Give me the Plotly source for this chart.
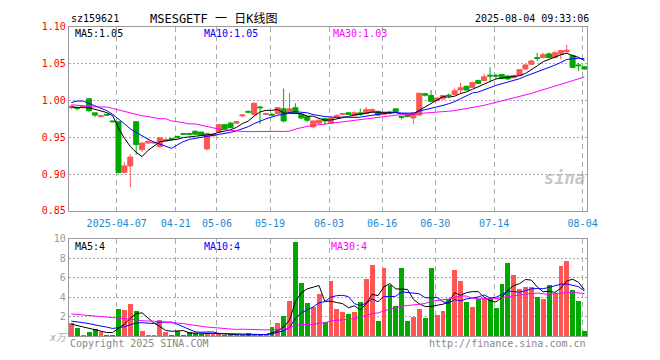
import numpy as np
import plotly.graph_objects as go

# ---------------- data ----------------
opens = [0.990, 0.990, 0.991, 1.002, 0.983, 0.978, 0.981, 0.972, 0.971, 0.902,
         0.911, 0.971, 0.933, 0.942, 0.942, 0.937, 0.945, 0.948, 0.951, 0.955,
         0.955, 0.958, 0.957, 0.934, 0.952, 0.957, 0.967, 0.969, 0.969, 0.979,
         0.985, 0.981, 0.991, 0.981, 0.981, 0.982, 0.9885, 0.983, 0.990, 0.981,
         0.978, 0.964, 0.969, 0.975, 0.969, 0.978, 0.981, 0.983, 0.979, 0.983,
         0.982, 0.984, 0.985, 0.981, 0.984, 0.9885, 0.978, 0.980, 0.976, 0.980,
         1.009, 1.0066, 0.9995, 1.002, 1.007, 1.008, 1.014, 1.019, 1.0175, 1.027,
         1.027, 1.034, 1.034, 1.035, 1.033, 1.0306, 1.0337, 1.0425, 1.049, 1.058,
         1.058, 1.063, 1.058, 1.063, 1.066, 1.061, 1.048, 1.0455]
highs = [0.993, 0.991, 0.993, 1.003, 0.983, 0.980, 0.982, 0.972, 0.971, 0.916,
         0.927, 0.971, 0.943, 0.949, 0.944, 0.950, 0.948, 0.949, 0.952, 0.955,
         0.955, 0.959, 0.957, 0.956, 0.955, 0.968, 0.968, 0.971, 0.972, 0.981,
         0.986, 0.997, 0.992, 0.983, 0.983, 0.991, 1.016, 1.010, 0.996, 0.982,
         0.979, 0.973, 0.974, 0.976, 0.977, 0.981, 0.983, 0.984, 0.985, 0.989,
         0.991, 0.989, 0.986, 0.984, 0.985, 0.989, 0.979, 0.981, 0.984, 1.010,
         1.010, 1.014, 1.004, 1.007, 1.009, 1.016, 1.024, 1.020, 1.025, 1.028,
         1.036, 1.045, 1.036, 1.036, 1.034, 1.035, 1.042, 1.049, 1.055, 1.0645,
         1.0645, 1.065, 1.0675, 1.068, 1.0754, 1.062, 1.051, 1.046]
lows = [0.988, 0.986, 0.990, 0.984, 0.977, 0.977, 0.979, 0.970, 0.901, 0.901,
        0.882, 0.926, 0.930, 0.941, 0.941, 0.936, 0.944, 0.945, 0.948, 0.953,
        0.953, 0.953, 0.952, 0.932, 0.951, 0.956, 0.960, 0.962, 0.968, 0.977,
        0.983, 0.980, 0.968, 0.980, 0.979, 0.981, 0.970, 0.982, 0.982, 0.975,
        0.970, 0.962, 0.967, 0.967, 0.968, 0.977, 0.980, 0.980, 0.978, 0.979,
        0.981, 0.983, 0.979, 0.980, 0.981, 0.984, 0.974, 0.977, 0.968, 0.979,
        1.005, 0.998, 0.999, 1.001, 1.003, 1.007, 1.0096, 1.013, 1.017, 1.022,
        1.026, 1.025, 1.029, 1.029, 1.028, 1.030, 1.033, 1.042, 1.048, 1.0534,
        1.057, 1.057, 1.057, 1.0556, 1.065, 1.0434, 1.040, 1.0416]
closes = [0.992, 0.989, 0.992, 0.986, 0.980, 0.979, 0.980, 0.971, 0.902, 0.911,
          0.923, 0.940, 0.942, 0.944, 0.943, 0.949, 0.947, 0.947, 0.950, 0.954,
          0.954, 0.954, 0.953, 0.955, 0.954, 0.967, 0.961, 0.963, 0.971, 0.980,
          0.984, 0.996, 0.990, 0.982, 0.980, 0.990, 0.972, 0.9885, 0.983, 0.976,
          0.973, 0.972, 0.973, 0.972, 0.976, 0.979, 0.982, 0.981, 0.983, 0.981,
          0.9876, 0.9876, 0.980, 0.983, 0.983, 0.9845, 0.977, 0.978, 0.983, 1.0096,
          1.007, 0.9987, 1.003, 1.0066, 1.0066, 1.013, 1.017, 1.014, 1.024, 1.023,
          1.032, 1.033, 1.033, 1.030, 1.029, 1.0337, 1.0416, 1.048, 1.0534, 1.057,
          1.062, 1.058, 1.0645, 1.0675, 1.068, 1.0447, 1.047, 1.0425]
volumes = [1.33, 0.87, 0.17, 0.47, 0.73, 0.40, 0.17, 0.15, 2.83, 2.73,
           3.36, 2.56, 0.57, 0.15, 0.15, 1.66, 0.47, 0.15, 0.50, 0.15,
           0.45, 0.30, 0.25, 0.30, 0.25, 0.20, 0.15, 0.15, 0.10, 0.15,
           0.30, 0.15, 0.15, 0.15, 0.97, 1.40, 2.06, 3.66, 9.73, 5.45,
           3.46, 3.06, 4.38, 1.50, 5.65, 2.76, 2.50, 2.26, 2.50, 3.56,
           5.88, 7.34, 1.56, 7.04, 5.28, 3.16, 7.04, 1.56, 2.00, 2.86,
           1.86, 7.04, 2.16, 2.56, 3.82, 6.84, 5.65, 3.56, 3.06, 3.82,
           3.95, 3.90, 2.90, 5.35, 7.54, 6.35, 4.88, 5.05, 5.05, 4.05,
           3.82, 5.25, 4.35, 7.24, 7.74, 4.75, 3.66, 0.50]

# moving-average values shown before a full window of days is on the chart
ma5_lead = [0.991, 0.990, 0.990, 0.990]
ma10_lead = [0.997, 0.999, 0.999, 0.996, 0.992, 0.989, 0.986, 0.981, 0.975]
ma30_lead = [0.994, 0.993, 0.993, 0.992, 0.991, 0.991, 0.991, 0.989, 0.987, 0.984,
             0.983, 0.981, 0.979, 0.978, 0.976, 0.975, 0.975, 0.972, 0.971, 0.969,
             0.968, 0.968, 0.966, 0.964, 0.963, 0.961, 0.960, 0.959, 0.959]
vma5_lead = [1.25, 1.10, 0.95, 0.85]
vma10_lead = [1.55, 1.50, 1.40, 1.30, 1.15, 1.05, 0.95, 0.80, 0.90]
vma30_lead = [2.30, 2.25, 2.20, 2.10, 2.05, 2.00, 2.00, 1.95, 1.90, 1.85,
              1.80, 1.70, 1.60, 1.60, 1.55, 1.50, 1.45, 1.45, 1.40, 1.30,
              1.20, 1.10, 1.00, 0.95, 0.90, 0.85, 0.80, 0.75, 0.70]

tick_idx = [8, 18, 25, 34, 44, 53, 62, 72, 87]
tick_labels = ["2025-04-07", "04-21", "05-06", "05-19", "06-03", "06-16",
               "06-30", "07-14", "08-04"]
price_ticks = [0.85, 0.90, 0.95, 1.00, 1.05, 1.10]
vol_ticks = [2, 4, 6, 8, 10]

# ---------------- helpers ----------------
def moving(arr, n, lead):
    arr = np.asarray(arr, dtype=float)
    out = list(lead)
    for i in range(len(lead), len(arr)):
        out.append(float(arr[i - n + 1:i + 1].mean()))
    return out

W, H = 660, 360
def px(x):
    return x / W
def py(y):
    return 1 - y / H

RED = "#ff5555"
GREEN = "#00a800"
MONO = "DejaVu Sans Mono, Noto Sans CJK SC, monospace"
x = list(range(len(closes)))

fig = go.Figure()
fig.add_trace(go.Candlestick(
    x=x, open=opens, high=highs, low=lows, close=closes,
    increasing=dict(line=dict(color=RED, width=1), fillcolor=RED),
    decreasing=dict(line=dict(color=GREEN, width=1), fillcolor=GREEN),
    whiskerwidth=0, hoverinfo="skip", xaxis="x", yaxis="y"))
for vals, color in [(moving(closes, 5, ma5_lead), "black"),
                    (moving(closes, 10, ma10_lead), "#0000ff"),
                    (moving(closes, 30, ma30_lead), "#ff00ff")]:
    fig.add_trace(go.Scatter(x=x, y=vals, mode="lines",
                             line=dict(color=color, width=1),
                             hoverinfo="skip", xaxis="x", yaxis="y"))

vcolors = [RED if c >= o else GREEN for o, c in zip(opens, closes)]
fig.add_trace(go.Bar(x=x, y=volumes, marker=dict(color=vcolors, line=dict(width=0)),
                     width=0.83, hoverinfo="skip", xaxis="x2", yaxis="y2"))
for vals, color in [(moving(volumes, 5, vma5_lead), "black"),
                    (moving(volumes, 10, vma10_lead), "#0000ff"),
                    (moving(volumes, 30, vma30_lead), "#ff00ff")]:
    fig.add_trace(go.Scatter(x=x, y=vals, mode="lines",
                             line=dict(color=color, width=1),
                             hoverinfo="skip", xaxis="x2", yaxis="y2"))

xdom = [px(70), px(597)]
xrange = [-0.42, 87.45]
grid_x = [i - 0.3 for i in tick_idx]
common_x = dict(domain=xdom, range=xrange, tickvals=grid_x, showgrid=True,
                gridcolor="#aaaaaa", griddash="5px,4px", gridwidth=1,
                showline=True, mirror=True, linecolor="#999999", linewidth=1,
                zeroline=False, ticks="", fixedrange=True)
fig.update_layout(
    width=W, height=H, margin=dict(l=0, r=0, t=0, b=0),
    paper_bgcolor="white", plot_bgcolor="white", showlegend=False,
    boxgap=0.15, boxgroupgap=0, bargap=0,
    xaxis=dict(**common_x, anchor="y", ticktext=tick_labels,
               tickfont=dict(family=MONO, size=10, color="#1a8ad4"),
               ticklabelstandoff=3,
               rangeslider=dict(visible=False)),
    yaxis=dict(domain=[py(211.3), py(21.3)], range=[0.85, 1.10],
               tickvals=price_ticks, ticktext=[f"{v:.2f}" for v in price_ticks],
               tickfont=dict(family=MONO, size=10, color="#ff0000"),
               showgrid=True, gridcolor="#aaaaaa", griddash="2px,2px",
               showline=True, mirror=True, linecolor="#999999", linewidth=1,
               zeroline=False, ticks="", anchor="x", fixedrange=True),
    xaxis2=dict(**common_x, anchor="y2", showticklabels=False),
    yaxis2=dict(domain=[py(340.7), py(240.3)], range=[0, 10],
                tickvals=vol_ticks, ticktext=[str(v) for v in vol_ticks],
                tickfont=dict(family=MONO, size=10, color="#999999"),
                showgrid=True, gridcolor="#aaaaaa", griddash="2px,2px",
                showline=True, mirror=True, linecolor="#999999", linewidth=1,
                zeroline=False, ticks="", anchor="x2", fixedrange=True),
)

def note(text, x0, y0, color="black", size=10, xanchor="left", **kw):
    fig.add_annotation(text=text, x=px(x0), y=py(y0), xref="paper", yref="paper",
                       xanchor=xanchor, yanchor="middle", showarrow=False,
                       font=dict(family=MONO, size=size, color=color, **kw))

note("sz159621", 70, 13)
note("MSESGETF 一 日K线图", 151, 13, size=12)
note("2025-08-04 09:33:06", 601, 13, xanchor="right")
note("MA5:1.05", 74, 28)
note("MA10:1.05", 205, 28, color="#0000ff")
note("MA30:1.03", 337, 28, color="#ff00ff")
note("MA5:4", 74, 248)
note("MA10:4", 205, 248, color="#0000ff")
note("MA30:4", 335, 248, color="#ff00ff")
note("Copyright 2025 SINA.COM", 69, 348, color="#888888")
note("http://finance.sina.com.cn", 598, 348, color="#888888", xanchor="right")
note("x万", 48, 342, color="#aaaaaa", style="italic")
note("sina", 597, 177, color="rgba(150,150,150,0.55)", size=17,
     xanchor="right", style="italic", weight="bold")

fig.write_html("out.html")
